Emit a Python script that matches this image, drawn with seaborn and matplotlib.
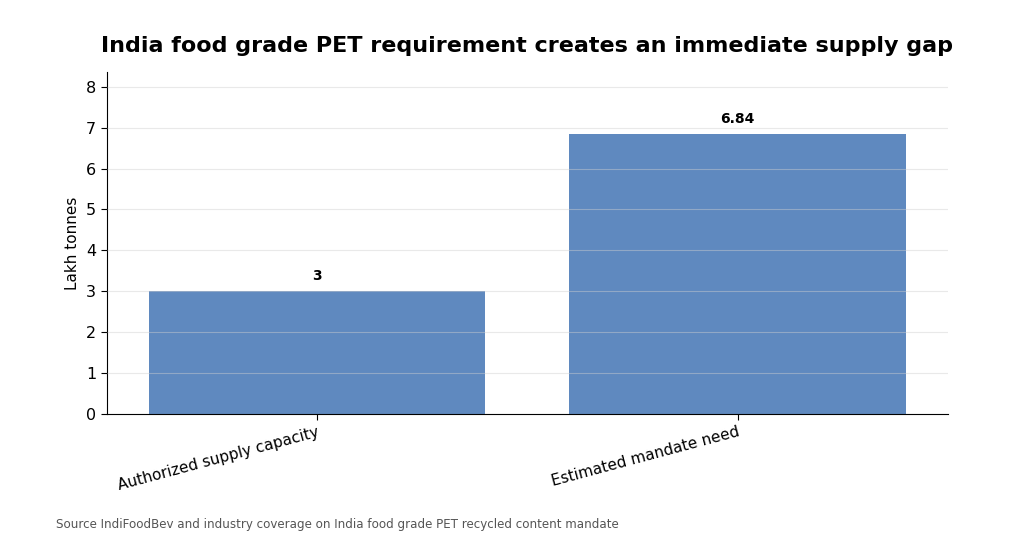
import pandas as pd
import seaborn as sns
import matplotlib.pyplot as plt

categories = ['Authorized supply capacity', 'Estimated mandate need']
values = [3, 6.84]
value_labels = ['3', '6.84']

df = pd.DataFrame({'category': categories, 'value': values})

sns.set_style('white')
plt.rcParams.update({'text.color': 'black', 'axes.labelcolor': 'black',
                     'xtick.color': 'black', 'ytick.color': 'black'})
fig, ax = plt.subplots(figsize=(10.36, 5.53), dpi=100)
fig.subplots_adjust(left=0.103, right=0.915, top=0.87, bottom=0.251)

sns.barplot(data=df, x='category', y='value', color='#5F89BF', saturation=1,
            width=0.8, linewidth=0, ax=ax)

ax.set_ylim(0, 8.36)
ax.set_yticks(range(0, 9))
ax.yaxis.grid(True, color='#cfcfcf', linewidth=0.8)
ax.set_axisbelow(False)
for line in ax.get_ygridlines():
    line.set_alpha(0.45)

for i, (v, lab) in enumerate(zip(values, value_labels)):
    ax.annotate(lab, (i, v), xytext=(0, 6), textcoords='offset points',
                ha='center', va='bottom', fontsize=10, fontweight='bold')

sns.despine(ax=ax)
ax.spines['left'].set_color('black')
ax.spines['bottom'].set_color('black')
ax.tick_params(axis='both', which='both', length=4, color='black',
               labelsize=11.5, left=True, bottom=True)
ax.tick_params(axis='x', labelsize=11)
plt.setp(ax.get_xticklabels(), rotation=15, ha='right', rotation_mode='anchor')

ax.set_xlabel('')
ax.set_ylabel('Lakh tonnes', fontsize=11)
ax.set_title('India food grade PET requirement creates an immediate supply gap',
             fontsize=16, fontweight='bold', pad=14)

fig.text(0.054, 0.045, 'Source IndiFoodBev and industry coverage on India food grade PET recycled content mandate',
         fontsize=8.6, color='#555555')

fig.savefig('out.png', dpi=100)
